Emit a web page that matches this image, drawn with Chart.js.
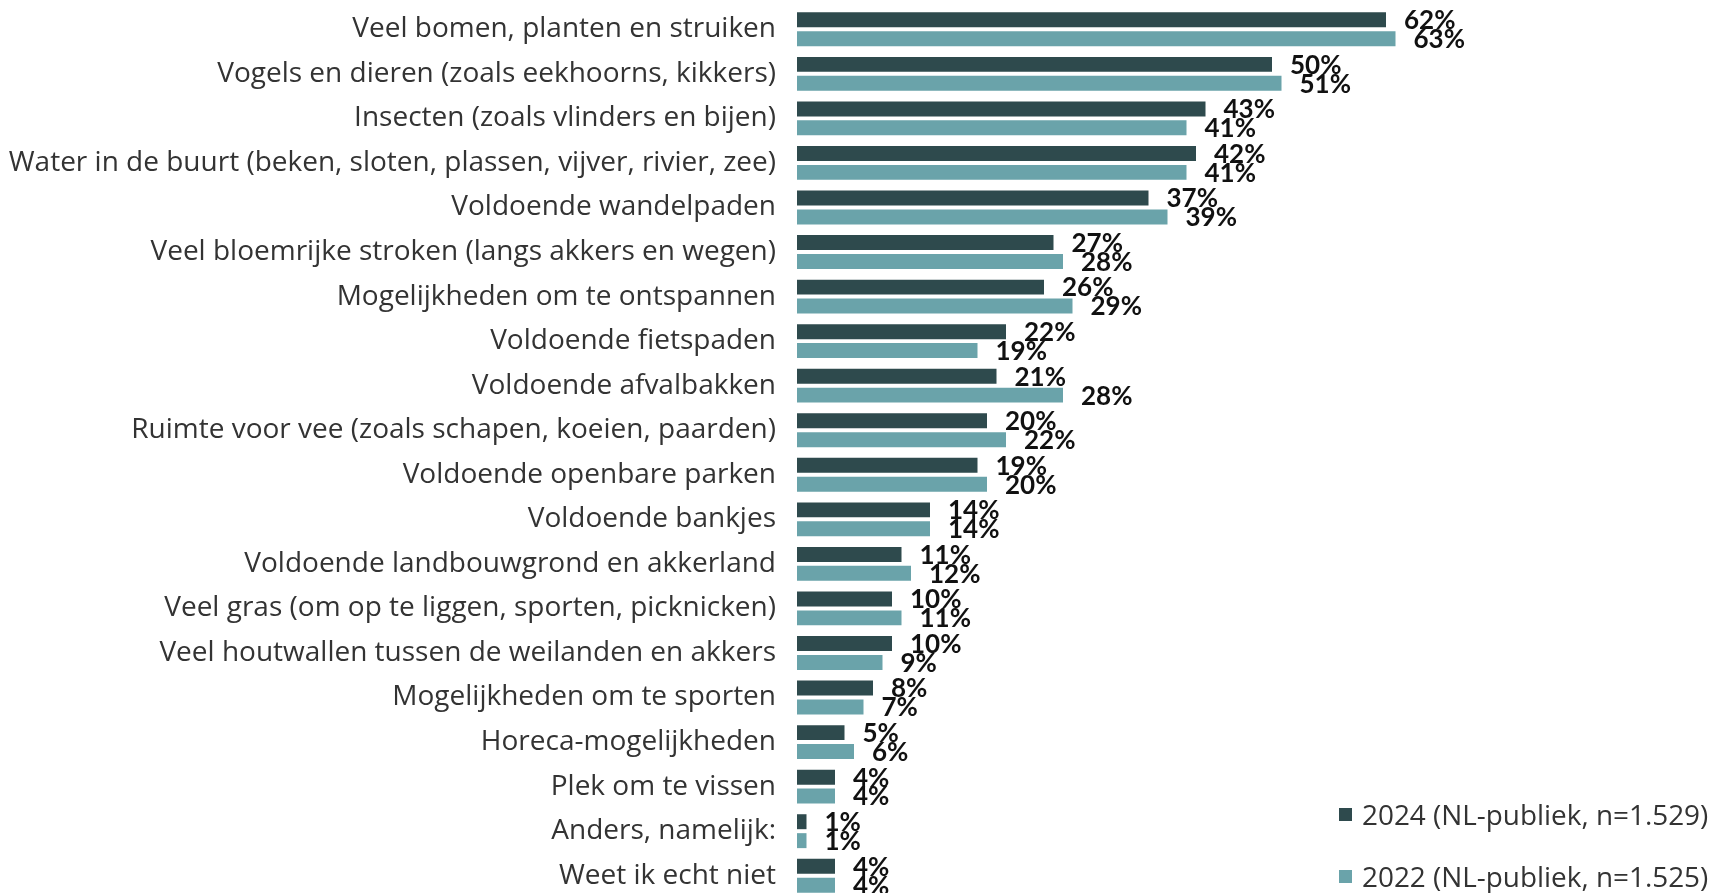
<!DOCTYPE html>
<html lang="nl">
<head>
<meta charset="utf-8">
<title>Wat vindt u belangrijk in het landschap?</title>
<script src="https://cdn.jsdelivr.net/npm/chart.js@4.4.1/dist/chart.umd.min.js"></script>
<style>
  html, body { margin: 0; padding: 0; background: #fff; overflow: hidden; }
  #wrap { position: relative; width: 1711px; height: 898px; }
  #legenda { position: absolute; left: 1339px; top: 796px; font-family: "Open Sans", sans-serif; font-size: 27.9px; color: #333; }
  .item { display: flex; align-items: center; height: 36px; margin-bottom: 26px; white-space: nowrap; }
  .blokje { width: 13px; height: 13px; margin-right: 10px; }
</style>
</head>
<body>
<div id="wrap">
  <canvas id="myChart"></canvas>
  <div id="legenda"></div>
</div>
<script>
const categorieen = [
    "Veel bomen, planten en struiken",
    "Vogels en dieren (zoals eekhoorns, kikkers)",
    "Insecten (zoals vlinders en bijen)",
    "Water in de buurt (beken, sloten, plassen, vijver, rivier, zee)",
    "Voldoende wandelpaden",
    "Veel bloemrijke stroken (langs akkers en wegen)",
    "Mogelijkheden om te ontspannen",
    "Voldoende fietspaden",
    "Voldoende afvalbakken",
    "Ruimte voor vee (zoals schapen, koeien, paarden)",
    "Voldoende openbare parken",
    "Voldoende bankjes",
    "Voldoende landbouwgrond en akkerland",
    "Veel gras (om op te liggen, sporten, picknicken)",
    "Veel houtwallen tussen de weilanden en akkers",
    "Mogelijkheden om te sporten",
    "Horeca-mogelijkheden",
    "Plek om te vissen",
    "Anders, namelijk:",
    "Weet ik echt niet"
];

const waarden2024 = [62, 50, 43, 42, 37, 27, 26, 22, 21, 20, 19, 14, 11, 10, 10, 8, 5, 4, 1, 4];
const waarden2022 = [63, 51, 41, 41, 39, 28, 29, 19, 28, 22, 20, 14, 12, 11, 9, 7, 6, 4, 1, 4];

const reeksen = ["2024 (NL-publiek, n=1.529)", "2022 (NL-publiek, n=1.525)"];
const kleuren = ["#2e4a4d", "#6aa3aa"];

// percentages achter de balken
const labelPlugin = {
    id: "percentages",
    afterDatasetsDraw(chart) {
        const ctx = chart.ctx;
        ctx.save();
        ctx.font = "bold 26px Lato, sans-serif";
        ctx.fillStyle = "#111";
        ctx.textAlign = "left";
        ctx.textBaseline = "middle";
        chart.data.datasets.forEach((ds, i) => {
            const meta = chart.getDatasetMeta(i);
            meta.data.forEach((bar, j) => {
                ctx.fillText(ds.data[j] + "%", bar.x + 18, bar.y + 1);
            });
        });
        ctx.restore();
    }
};

const data = {
    labels: categorieen,
    datasets: [
        { label: reeksen[0], data: waarden2024, backgroundColor: kleuren[0] },
        { label: reeksen[1], data: waarden2022, backgroundColor: kleuren[1] }
    ]
};

const config = {
    type: "bar",
    data,
    options: {
        indexAxis: "y",
        responsive: false,
        animation: false,
        categoryPercentage: 0.85,
        barPercentage: 0.79,
        layout: { padding: { top: 7, bottom: 0, left: 0, right: 154 } },
        plugins: {
            legend: { display: false },
            tooltip: { enabled: false }
        },
        scales: {
            x: { min: 0, max: 80, display: false },
            y: {
                grid: { display: false, drawTicks: false },
                border: { display: false },
                ticks: {
                    padding: 21,
                    color: "#333",
                    font: { family: "Open Sans", size: 28 }
                },
                afterFit(scale) {
                    scale.width = 797;
                    scale.paddingTop = 0;
                    scale.paddingBottom = 0;
                }
            }
        }
    },
    plugins: [labelPlugin]
};

const canvas = document.getElementById("myChart");
canvas.width = 1711;
canvas.height = 898;
const chart = new Chart(canvas, config);

// legenda
const legenda = document.getElementById("legenda");
reeksen.forEach((naam, i) => {
    const item = document.createElement("div");
    item.className = "item";
    item.innerHTML = `<span class="blokje" style="background:${kleuren[i]}"></span><span>${naam}</span>`;
    legenda.appendChild(item);
});
</script>
</body>
</html>
